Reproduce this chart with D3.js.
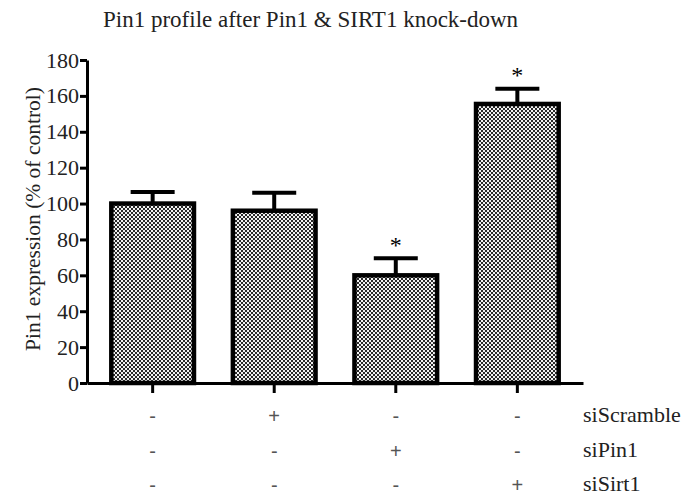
<!DOCTYPE html>
<html>
<head>
<meta charset="utf-8">
<script src="https://cdn.jsdelivr.net/npm/d3@7/dist/d3.min.js"></script>
<style>
  body { margin: 0; background: #fff; }
</style>
</head>
<body>
<div id="chart"></div>
<script>
// data
const groups = ['ctrl', 'scramble', 'pin1', 'sirt1'];
const means = [100, 96, 60, 155.5];
const errs = [6.5, 10, 9.5, 8.5];
const signif = [false, false, true, true];
const yTicks = [0, 20, 40, 60, 80, 100, 120, 140, 160, 180];
const rowLabels = ['siScramble', 'siPin1', 'siSirt1'];
const rowSigns = [
    ['-', '+', '-', '-'],
    ['-', '-', '+', '-'],
    ['-', '-', '-', '+']
];

const SERIF = '"Liberation Serif", "Times New Roman", Times, serif';
const W = 685, H = 497;
const margin = {top: 60, left: 87, right: 102, bottom: 114};
const plotW = W - margin.left - margin.right;
const plotH = H - margin.top - margin.bottom;

let svg = d3.select('#chart').append('svg')
    .attr('width', W)
    .attr('height', H)
    .style('font-family', SERIF);

// checker fill used by the bars
let pat = svg.append('defs').append('pattern')
    .attr('id', 'dots')
    .attr('patternUnits', 'userSpaceOnUse')
    .attr('width', 4).attr('height', 4);
pat.append('rect').attr('width', 4).attr('height', 4).attr('fill', '#f2f2f2');
pat.append('rect').attr('width', 2).attr('height', 2).attr('fill', '#2a2a2a');
pat.append('rect').attr('x', 2).attr('y', 2).attr('width', 2).attr('height', 2).attr('fill', '#2a2a2a');

let g = svg.append('g').attr('transform', 'translate(' + margin.left + ',' + margin.top + ')');

let x = d3.scaleBand()
    .domain(groups)
    .range([0, plotW])
    .paddingInner(0.32)
    .paddingOuter(0.2);

let y = d3.scaleLinear()
    .domain([0, 180])
    .range([plotH, 0]);

// bars
g.selectAll('rect.bar')
    .data(groups)
    .enter().append('rect')
    .attr('class', 'bar')
    .attr('x', d => x(d))
    .attr('y', (d, i) => y(means[i]))
    .attr('width', x.bandwidth())
    .attr('height', (d, i) => plotH - y(means[i]))
    .attr('fill', 'url(#dots)')
    .attr('stroke', '#000')
    .attr('stroke-width', 4.5);

// error bars (upper only)
let eb = g.selectAll('g.err')
    .data(groups)
    .enter().append('g')
    .attr('class', 'err');
eb.append('line')
    .attr('x1', d => x(d) + x.bandwidth() / 2)
    .attr('x2', d => x(d) + x.bandwidth() / 2)
    .attr('y1', (d, i) => y(means[i]))
    .attr('y2', (d, i) => y(means[i] + errs[i]))
    .attr('stroke', '#000').attr('stroke-width', 4);
eb.append('line')
    .attr('x1', d => x(d) + x.bandwidth() / 2 - 22)
    .attr('x2', d => x(d) + x.bandwidth() / 2 + 22)
    .attr('y1', (d, i) => y(means[i] + errs[i]))
    .attr('y2', (d, i) => y(means[i] + errs[i]))
    .attr('stroke', '#000').attr('stroke-width', 4);

// significance stars
g.selectAll('text.star')
    .data(groups.filter((d, i) => signif[i]))
    .enter().append('text')
    .attr('class', 'star')
    .attr('x', d => x(d) + x.bandwidth() / 2)
    .attr('y', d => y(means[groups.indexOf(d)] + errs[groups.indexOf(d)]) + 3)
    .attr('dy', '-0.35em')
    .attr('text-anchor', 'middle')
    .style('font-family', SERIF)
    .attr('font-size', 24)
    .text('*');

// y axis
let yAxis = g.append('g')
    .call(d3.axisLeft(y).tickValues(yTicks).tickSize(7).tickSizeOuter(0));
yAxis.select('.domain').attr('stroke-width', 3);
yAxis.selectAll('.tick line').attr('stroke-width', 3);
yAxis.selectAll('.tick text')
    .style('font-family', SERIF)
    .attr('font-size', 22)
    .attr('x', -8)
    .attr('fill', '#222');

// x axis
let xAxis = g.append('g')
    .attr('transform', 'translate(0,' + plotH + ')')
    .call(d3.axisBottom(x).tickSize(10).tickSizeOuter(0).tickFormat(''));
xAxis.select('.domain').attr('stroke-width', 3);
xAxis.selectAll('.tick line').attr('stroke-width', 3);

// +/- rows under the axis
rowSigns.forEach((row, r) => {
    g.selectAll('text.sign' + r)
        .data(row)
        .enter().append('text')
        .attr('x', (d, i) => x(groups[i]) + x.bandwidth() / 2)
        .attr('y', plotH + 40 + r * 34.5)
        .attr('text-anchor', 'middle')
        .style('font-family', '"Liberation Sans", Arial, sans-serif')
        .attr('font-size', 20)
        .attr('fill', '#555')
        .text(d => d);
});

g.selectAll('text.rowlab')
    .data(rowLabels)
    .enter().append('text')
    .attr('x', 496)
    .attr('y', (d, i) => plotH + 39 + i * 34.5)
    .style('font-family', SERIF)
    .attr('font-size', 22)
    .attr('fill', '#222')
    .text(d => d);

// y label
svg.append('text')
    .attr('transform', 'translate(40,219) rotate(-90)')
    .attr('text-anchor', 'middle')
    .style('font-family', SERIF)
    .attr('font-size', 21.5)
    .attr('fill', '#222')
    .text('Pin1 expression (% of control)');

// title
svg.append('text')
    .attr('x', 103)
    .attr('y', 27)
    .style('font-family', SERIF)
    .attr('font-size', 23)
    .attr('fill', '#222')
    .text('Pin1 profile after Pin1 & SIRT1 knock-down');
</script>
</body>
</html>
